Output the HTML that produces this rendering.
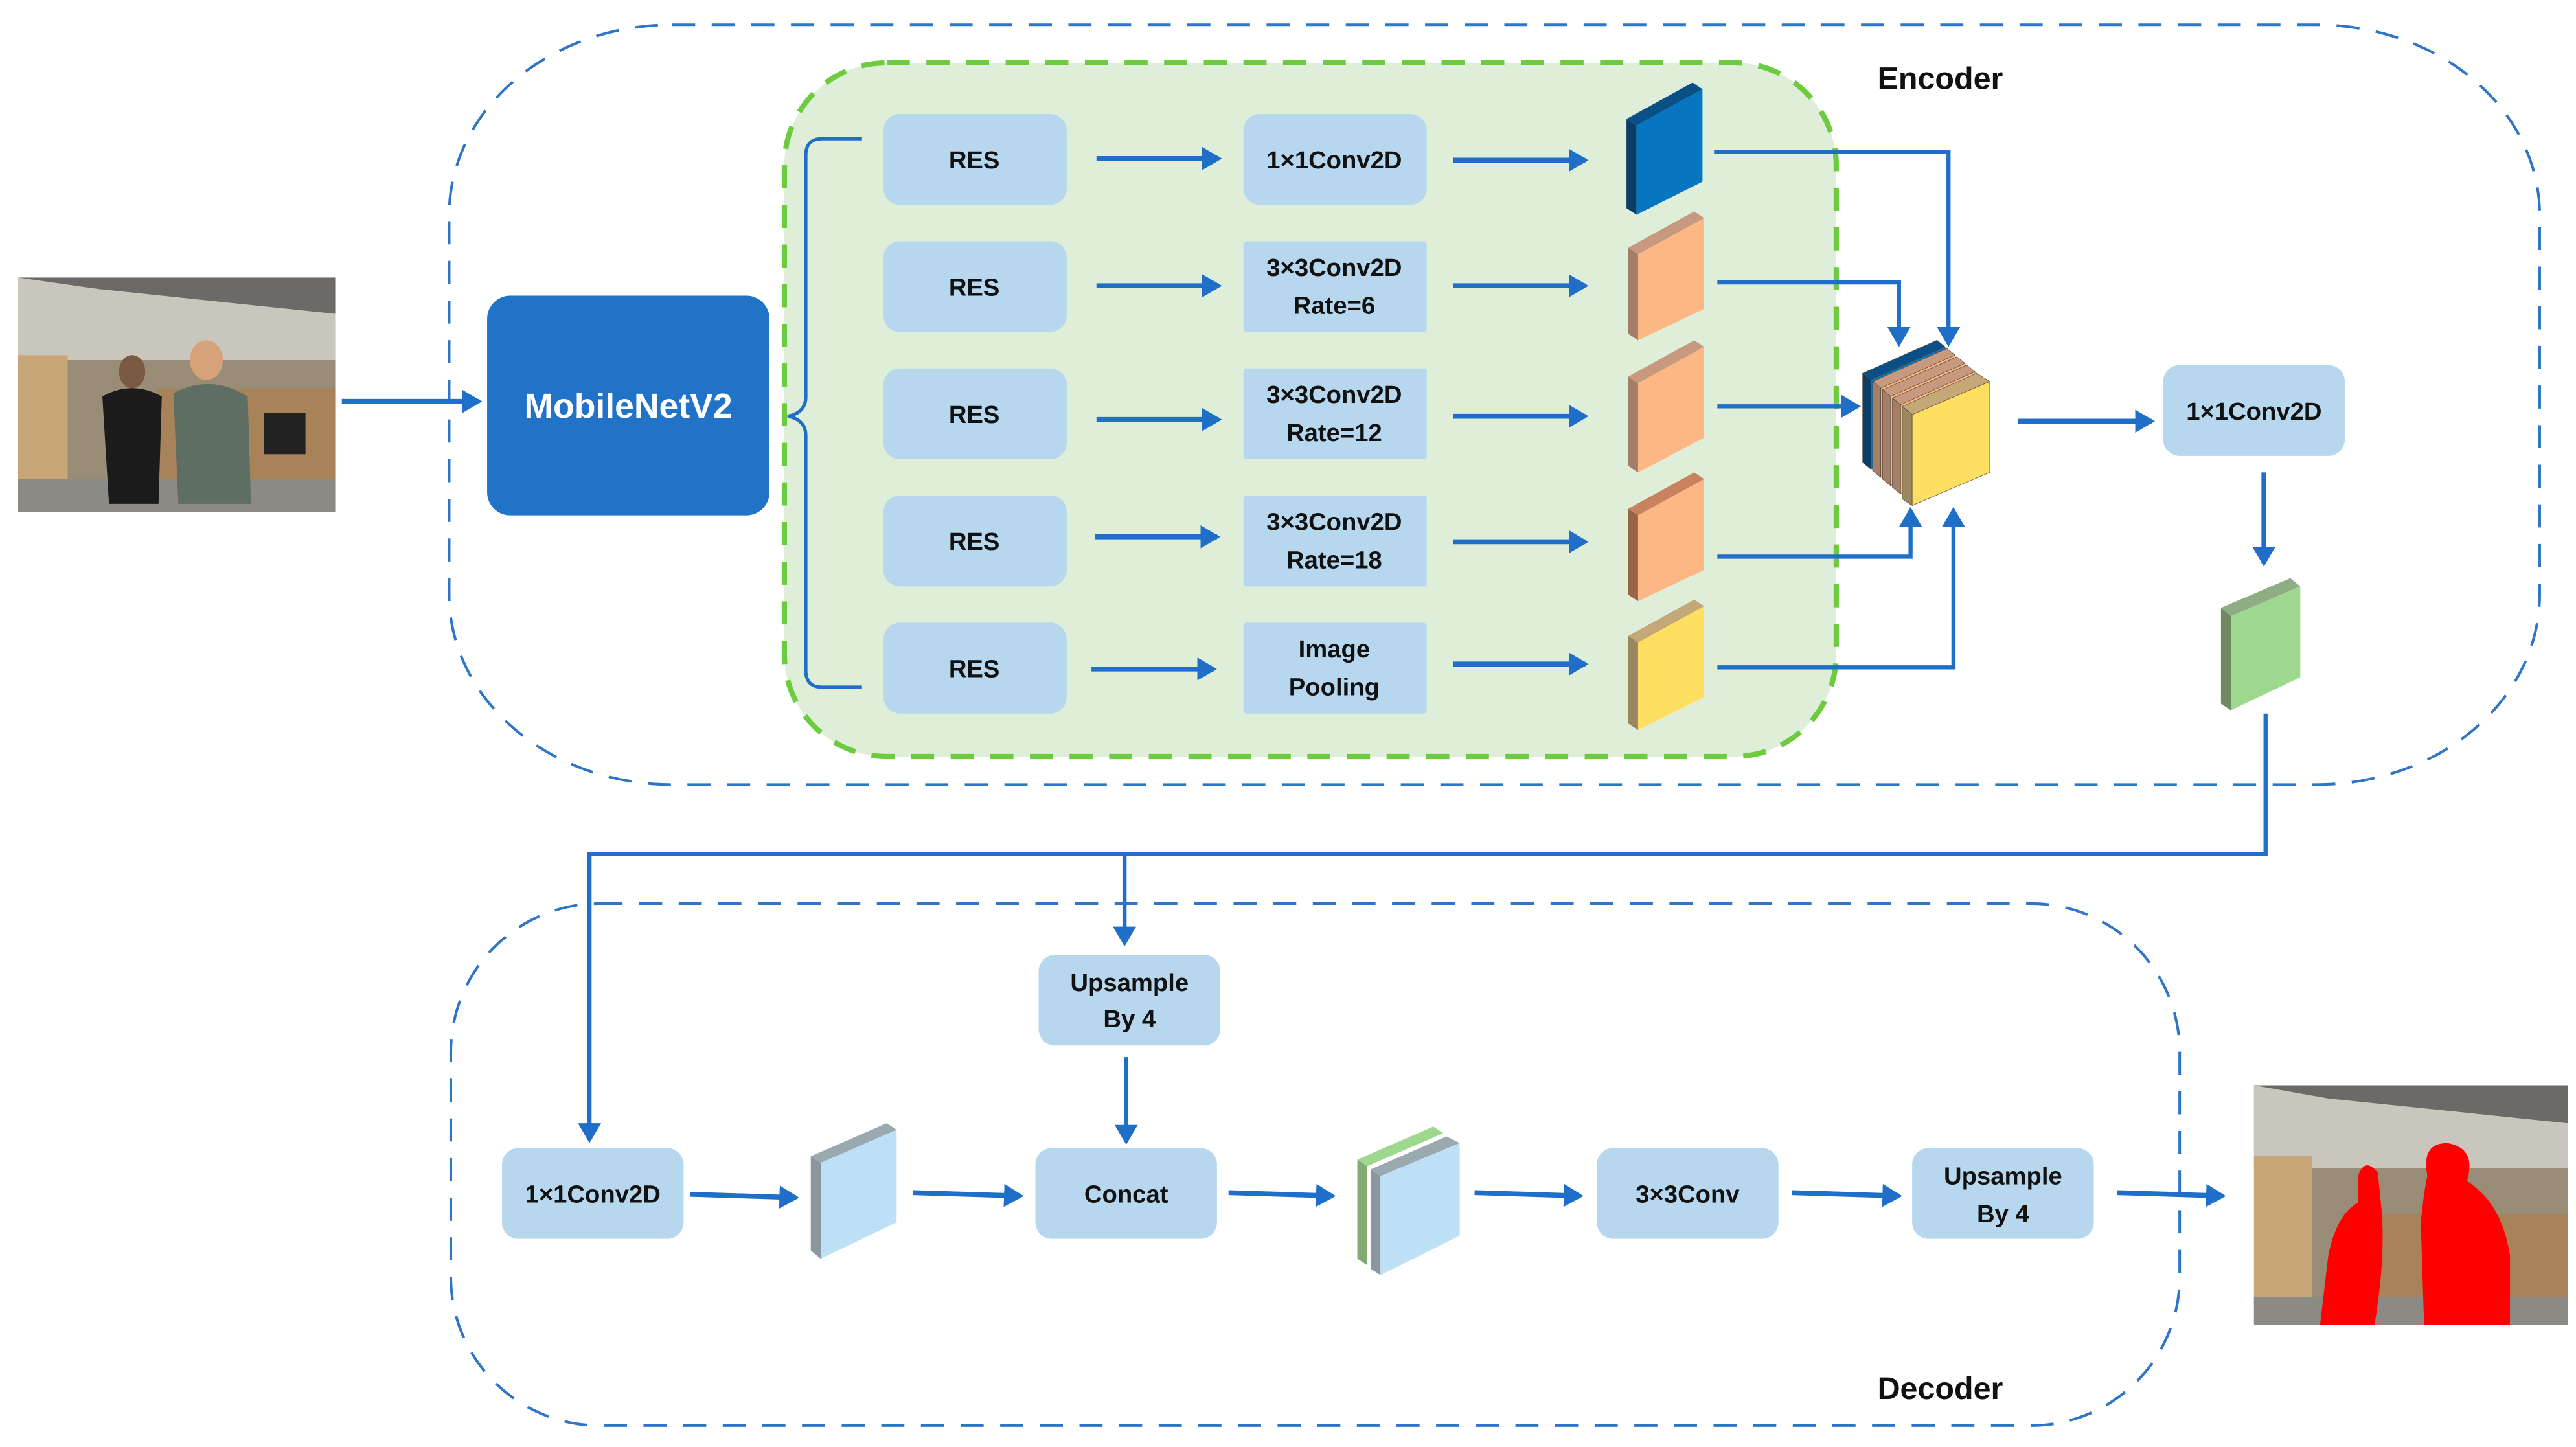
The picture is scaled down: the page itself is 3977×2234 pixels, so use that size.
<!DOCTYPE html>
<html><head><meta charset="utf-8">
<style>
html,body{margin:0;padding:0;background:#fff;}
svg{display:block;}
text{font-family:"Liberation Sans",sans-serif;font-weight:bold;fill:#111;}
</style></head>
<body>
<svg width="3977" height="2234" viewBox="0 0 1560 876" preserveAspectRatio="none" xmlns="http://www.w3.org/2000/svg">
<defs>
<marker id="ahb" markerWidth="12" markerHeight="14" refX="10" refY="7" orient="auto" markerUnits="userSpaceOnUse">
<path d="M0,0 L12,7 L0,14 Z" fill="#1F6FC9"/></marker>
</defs>

<rect x="272" y="15" width="1266" height="460" rx="135" ry="115" fill="none" stroke="#2E75C6" stroke-width="1.6" stroke-dasharray="14,10"/>
<rect x="475" y="38" width="637" height="420" rx="62" ry="62" fill="#DFEED8" stroke="#6DCB3F" stroke-width="3.2" stroke-dasharray="14,10"/>
<text x="1175" y="54" font-size="19" text-anchor="middle">Encoder</text>

<g>
<rect x="11" y="168" width="192" height="142" fill="#9a8d78"/>
<rect x="11" y="168" width="192" height="50" fill="#c9c6bd"/>
<polygon points="11,168 203,168 203,190 60,175" fill="#6b6a66"/>
<rect x="11" y="215" width="30" height="80" fill="#c8a678"/>
<rect x="95" y="235" width="108" height="60" fill="#a8835a"/>
<rect x="11" y="290" width="192" height="20" fill="#8c8a84"/>
<ellipse cx="80" cy="225" rx="8" ry="10" fill="#7a5a40"/>
<path d="M62,240 Q80,230 98,240 L96,305 L66,305 Z" fill="#1b1b1b"/>
<ellipse cx="125" cy="218" rx="10" ry="12" fill="#d6a27a"/>
<path d="M105,238 Q128,226 150,240 L152,305 L108,305 Z" fill="#5e6e62"/>
<rect x="160" y="250" width="25" height="25" fill="#222"/>
</g>
<line x1="207" y1="243" x2="290" y2="243" stroke="#1F6FC9" stroke-width="3" marker-end="url(#ahb)"/>

<rect x="295" y="179" width="171" height="133" rx="14" fill="#2173C8"/>
<text x="380.5" y="253" font-size="21" text-anchor="middle" style="fill:#fff">MobileNetV2</text>

<path d="M522,84 L498,84 Q488,84 488,94 L488,240 Q488,250 477,252 Q488,254 488,264 L488,406 Q488,416 498,416 L522,416" fill="none" stroke="#1F6FC9" stroke-width="2"/>

<g fill="#B6D7EE">
<rect x="535" y="69" width="111" height="55" rx="10"/>
<rect x="535" y="146" width="111" height="55" rx="10"/>
<rect x="535" y="223" width="111" height="55" rx="10"/>
<rect x="535" y="300" width="111" height="55" rx="10"/>
<rect x="535" y="377" width="111" height="55" rx="10"/>
</g>
<g font-size="15" text-anchor="middle">
<text x="590" y="102">RES</text>
<text x="590" y="179">RES</text>
<text x="590" y="256">RES</text>
<text x="590" y="333">RES</text>
<text x="590" y="410">RES</text>
</g>

<g fill="#B6D7EE">
<rect x="753" y="69" width="111" height="55" rx="10"/>
<rect x="753" y="146" width="111" height="55" rx="2"/>
<rect x="753" y="223" width="111" height="55" rx="2"/>
<rect x="753" y="300" width="111" height="55" rx="2"/>
<rect x="753" y="377" width="111" height="55" rx="2"/>
</g>
<g font-size="15" text-anchor="middle">
<text x="808" y="102">1×1Conv2D</text>
<text x="808" y="167">3×3Conv2D</text><text x="808" y="190">Rate=6</text>
<text x="808" y="244">3×3Conv2D</text><text x="808" y="267">Rate=12</text>
<text x="808" y="321">3×3Conv2D</text><text x="808" y="344">Rate=18</text>
<text x="808" y="398">Image</text><text x="808" y="421">Pooling</text>
</g>

<g stroke="#1F6FC9" stroke-width="3" marker-end="url(#ahb)">
<line x1="664" y1="96" x2="738" y2="96"/>
<line x1="664" y1="173" x2="738" y2="173"/>
<line x1="664" y1="254" x2="738" y2="254"/>
<line x1="663" y1="325" x2="737" y2="325"/>
<line x1="661" y1="405" x2="735" y2="405"/>
<line x1="880" y1="97" x2="960" y2="97"/>
<line x1="880" y1="173" x2="960" y2="173"/>
<line x1="880" y1="252" x2="960" y2="252"/>
<line x1="880" y1="328" x2="960" y2="328"/>
<line x1="880" y1="402" x2="960" y2="402"/>
</g>

<g>
<polygon points="985,72 1025,50 1031,54 991,76" fill="#0A4F86"/>
<polygon points="985,72 991,76 991,130 985,126" fill="#0B3E66"/>
<polygon points="991,76 1031,54 1031,110 991,130" fill="#0676C0"/>
</g>
<g>
<polygon points="986,150 1026,128 1032,132 992,154" fill="#C79A80"/>
<polygon points="986,150 992,154 992,206 986,202" fill="#A47E68"/>
<polygon points="992,154 1032,132 1032,187 992,206" fill="#FDB785"/>
</g>
<g>
<polygon points="986,228 1026,206 1032,210 992,232" fill="#C79A80"/>
<polygon points="986,228 992,232 992,286 986,282" fill="#A47E68"/>
<polygon points="992,232 1032,210 1032,265 992,286" fill="#FDB785"/>
</g>
<g>
<polygon points="986,308 1026,286 1032,290 992,312" fill="#C8825E"/>
<polygon points="986,308 992,312 992,364 986,360" fill="#9A6448"/>
<polygon points="992,312 1032,290 1032,345 992,364" fill="#FDB785"/>
</g>
<g>
<polygon points="986,385 1026,363 1032,367 992,389" fill="#C4A878"/>
<polygon points="986,385 992,389 992,442 986,438" fill="#9C8860"/>
<polygon points="992,389 1032,367 1032,422 992,442" fill="#FEDF62"/>
</g>

<g fill="none" stroke="#1F6FC9" stroke-width="2.5">
<polyline points="1038,92 1180,92 1180,208" marker-end="url(#ahb)"/>
<polyline points="1040,171 1150,171 1150,208" marker-end="url(#ahb)"/>
<polyline points="1040,246 1125,246" marker-end="url(#ahb)"/>
<polyline points="1040,337 1157,337 1157,309" marker-end="url(#ahb)"/>
<polyline points="1040,404 1183,404 1183,309" marker-end="url(#ahb)"/>
</g>

<!-- concat cube: 5 stacked slabs -->
<g stroke="#5a4a3a" stroke-width="0.3">
<polygon points="1128,226 1173,206 1178,210 1133,230" fill="#0A4F86"/>
<polygon points="1128,226 1133,230 1133,284 1128,280" fill="#0B3E66"/>
<polygon points="1133,230 1178,210 1178,264 1133,284" fill="#0676C0"/>

<polygon points="1134,231 1179,211 1184,215 1139,235" fill="#C79A80"/>
<polygon points="1134,231 1139,235 1139,289 1134,285" fill="#A47E68"/>
<polygon points="1139,235 1184,215 1184,269 1139,289" fill="#FDB785"/>

<polygon points="1140,236 1185,216 1190,220 1145,240" fill="#C79A80"/>
<polygon points="1140,236 1145,240 1145,294 1140,290" fill="#A47E68"/>
<polygon points="1145,240 1190,220 1190,274 1145,294" fill="#FDB785"/>

<polygon points="1146,241 1191,221 1196,225 1151,245" fill="#C79A80"/>
<polygon points="1146,241 1151,245 1151,299 1146,295" fill="#A47E68"/>
<polygon points="1151,245 1196,225 1196,279 1151,299" fill="#FDB785"/>

<polygon points="1152,246 1197,226 1205,231 1158,251" fill="#C4A878"/>
<polygon points="1152,246 1158,251 1158,306 1152,302" fill="#9C8860"/>
<polygon points="1158,251 1205,231 1205,286 1158,306" fill="#FEDF62"/>
</g>

<line x1="1222" y1="255" x2="1303" y2="255" stroke="#1F6FC9" stroke-width="3" marker-end="url(#ahb)"/>
<rect x="1310" y="221" width="110" height="55" rx="10" fill="#B6D7EE"/>
<text x="1365" y="254" font-size="15" text-anchor="middle">1×1Conv2D</text>
<line x1="1371" y1="286" x2="1371" y2="341" stroke="#1F6FC9" stroke-width="3" marker-end="url(#ahb)"/>

<g>
<polygon points="1345,368 1387,350 1393,355 1351,373" fill="#8EAD84"/>
<polygon points="1345,368 1351,373 1351,430 1345,426" fill="#718962"/>
<polygon points="1351,373 1393,355 1393,410 1351,430" fill="#9ED88F"/>
</g>

<g fill="none" stroke="#1F6FC9" stroke-width="2.5">
<polyline points="1372,432 1372,517 357,517 357,690" marker-end="url(#ahb)"/>
<polyline points="681,517 681,571" marker-end="url(#ahb)"/>
</g>

<rect x="273" y="547" width="1047" height="316" rx="90" ry="90" fill="none" stroke="#2E75C6" stroke-width="1.6" stroke-dasharray="14,10"/>
<text x="1175" y="847" font-size="19" text-anchor="middle">Decoder</text>

<g fill="#B6D7EE">
<rect x="629" y="578" width="110" height="55" rx="10"/>
<rect x="304" y="695" width="110" height="55" rx="10"/>
<rect x="627" y="695" width="110" height="55" rx="10"/>
<rect x="967" y="695" width="110" height="55" rx="10"/>
<rect x="1158" y="695" width="110" height="55" rx="10"/>
</g>
<g font-size="15" text-anchor="middle">
<text x="684" y="600">Upsample</text><text x="684" y="622">By 4</text>
<text x="359" y="728">1×1Conv2D</text>
<text x="682" y="728">Concat</text>
<text x="1022" y="728">3×3Conv</text>
<text x="1213" y="717">Upsample</text><text x="1213" y="740">By 4</text>
</g>
<line x1="682" y1="640" x2="682" y2="691" stroke="#1F6FC9" stroke-width="2.5" marker-end="url(#ahb)"/>

<g stroke="#1F6FC9" stroke-width="3" marker-end="url(#ahb)">
<line x1="418" y1="723" x2="482" y2="725"/>
<line x1="553" y1="722" x2="618" y2="724"/>
<line x1="744" y1="722" x2="807" y2="724"/>
<line x1="893" y1="722" x2="957" y2="724"/>
<line x1="1085" y1="722" x2="1150" y2="724"/>
<line x1="1282" y1="722" x2="1346" y2="724"/>
</g>

<g>
<polygon points="491,700 537,680 543,684 497,704" fill="#9AA8B0"/>
<polygon points="491,700 497,704 497,762 491,757" fill="#8A979E"/>
<polygon points="497,704 543,684 543,740 497,762" fill="#BEE0F6"/>
</g>
<g>
<polygon points="822,702 868,682 874,686 828,706" fill="#9ED88F"/>
<polygon points="822,702 828,706 828,766 822,762" fill="#82AA72"/>
<polygon points="830,708 876,688 884,692 836,712" fill="#9AA8B0"/>
<polygon points="830,708 836,712 836,772 830,768" fill="#8A979E"/>
<polygon points="836,712 884,692 884,748 836,772" fill="#BEE0F6"/>
</g>

<g>
<rect x="1365" y="657" width="190" height="145" fill="#9a8d78"/>
<rect x="1365" y="657" width="190" height="50" fill="#c9c6bd"/>
<polygon points="1365,657 1555,657 1555,680 1410,665" fill="#6b6a66"/>
<rect x="1365" y="700" width="35" height="90" fill="#c8a678"/>
<rect x="1440" y="735" width="115" height="50" fill="#a8835a"/>
<rect x="1365" y="785" width="190" height="17" fill="#8c8a84"/>
<path d="M1405,802 L1410,760 Q1415,735 1428,728 L1428,712 Q1432,700 1440,710 L1442,730 Q1445,760 1438,802 Z" fill="#FF0000"/>
<path d="M1468,802 L1466,740 Q1468,720 1470,712 Q1466,692 1482,692 Q1500,695 1494,715 Q1515,728 1520,760 L1520,802 Z" fill="#FF0000"/>
</g>
</svg>
</body></html>
